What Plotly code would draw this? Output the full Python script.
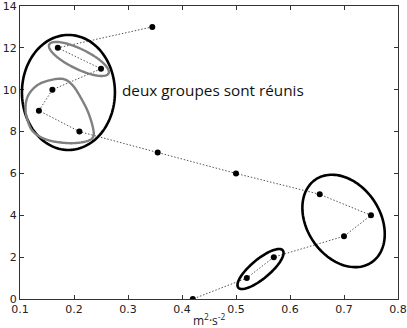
import math
import plotly.graph_objects as go

# ---- data ----
x_vals = [0.345, 0.17, 0.25, 0.16, 0.135, 0.21, 0.355, 0.50, 0.655, 0.75, 0.70, 0.57, 0.52, 0.42]
y_vals = [13, 12, 11, 10, 9, 8, 7, 6, 5, 4, 3, 2, 1, 0]
x_ticks = [0.1, 0.2, 0.3, 0.4, 0.5, 0.6, 0.7, 0.8]
y_ticks = [0, 2, 4, 6, 8, 10, 12, 14]
label_text = "deux groupes sont réunis"
x_title = "m<sup>2</sup>·s<sup>-2</sup>"

# ellipses: (center x, center y, semi-axis a [px], semi-axis b [px], angle deg, colour)
ellipses = [
    (0.1897, 9.87, 46.5, 57.5, 0, "black"),
    (0.2091, 11.47, 33, 10, -26, "#808080"),
    (0.6992, 3.73, 50, 36.5, -56, "black"),
    (0.5454, 1.433, 29, 9.5, 40, "black"),
]
# outline of the irregular grey group (data coords)
blob_x = [0.1564, 0.1805, 0.1971, 0.2119, 0.2267, 0.2359, 0.2341, 0.2174, 0.1878, 0.1509, 0.1250, 0.1139, 0.1102, 0.1157, 0.1324]
blob_y = [10.46, 10.51, 10.22, 9.65, 8.89, 8.08, 7.69, 7.50, 7.45, 7.60, 7.98, 8.55, 9.17, 9.75, 10.22]

W, H = 407, 328
ML, MR, MT, MB = 20, 9, 6, 29
X0, X1, Y0, Y1 = 0.1, 0.8, 0, 14
PXX = (W - ML - MR) / (X1 - X0)
PXY = (H - MT - MB) / (Y1 - Y0)


def ellipse_path(cx, cy, a, b, ang, n=120):
    th = math.radians(ang)
    pts = []
    for i in range(n + 1):
        t = 2 * math.pi * i / n
        dx = a * math.cos(t) * math.cos(th) - b * math.sin(t) * math.sin(th)
        dy = a * math.cos(t) * math.sin(th) + b * math.sin(t) * math.cos(th)
        pts.append((cx + dx / PXX, cy + dy / PXY))
    return "M " + " L ".join(f"{p[0]:.5f},{p[1]:.5f}" for p in pts) + " Z"


def blob_path(xs, ys, steps=12):
    n = len(xs)
    P = [(xs[i] * PXX, ys[i] * PXY) for i in range(n)]
    out = []
    for i in range(n):
        p0, p1, p2, p3 = P[(i - 1) % n], P[i], P[(i + 1) % n], P[(i + 2) % n]
        for s in range(steps):
            t = s / steps
            t2, t3 = t * t, t * t * t
            px = 0.5 * ((2 * p1[0]) + (-p0[0] + p2[0]) * t + (2 * p0[0] - 5 * p1[0] + 4 * p2[0] - p3[0]) * t2 + (-p0[0] + 3 * p1[0] - 3 * p2[0] + p3[0]) * t3)
            py = 0.5 * ((2 * p1[1]) + (-p0[1] + p2[1]) * t + (2 * p0[1] - 5 * p1[1] + 4 * p2[1] - p3[1]) * t2 + (-p0[1] + 3 * p1[1] - 3 * p2[1] + p3[1]) * t3)
            out.append((px / PXX, py / PXY))
    return "M " + " L ".join(f"{p[0]:.5f},{p[1]:.5f}" for p in out) + " Z"


fig = go.Figure()
fig.add_trace(go.Scatter(
    x=x_vals, y=y_vals, mode="lines+markers",
    line=dict(color="#555555", width=1, dash="1.5px,1.8px"),
    marker=dict(color="black", size=6),
    showlegend=False, cliponaxis=True,
))

shapes = []
for cx, cy, a, b, ang, col in ellipses:
    shapes.append(dict(type="path", path=ellipse_path(cx, cy, a, b, ang), xref="x", yref="y",
                       line=dict(color=col, width=2.6 if col == "black" else 2.4), fillcolor="rgba(0,0,0,0)", layer="above"))
shapes.append(dict(type="path", path=blob_path(blob_x, blob_y), xref="x", yref="y",
                   line=dict(color="#808080", width=2.4), fillcolor="rgba(0,0,0,0)", layer="above"))

axis_common = dict(
    showgrid=False, zeroline=False, showline=True, linecolor="#333333", linewidth=1,
    mirror="ticks", ticks="inside", ticklen=4, tickcolor="#333333", automargin=False,
    ticklabeloverflow="allow",
    tickfont=dict(family="DejaVu Sans", size=11, color="#222222"),
)
fig.update_layout(
    width=W, height=H, margin=dict(l=ML, r=MR, t=MT, b=MB, autoexpand=False),
    paper_bgcolor="white", plot_bgcolor="white",
    xaxis=dict(range=[X0, X1], tickvals=x_ticks, ticktext=[f"{v:.1f}" for v in x_ticks],
               ticklabelstandoff=0, **axis_common),
    yaxis=dict(range=[Y0, Y1], tickvals=y_ticks, ticktext=[str(v) for v in y_ticks],
               ticklabelstandoff=0, **axis_common),
    shapes=shapes,
    annotations=[
        dict(x=0.2845, y=10, xref="x", yref="y", text=label_text, showarrow=False,
             xanchor="left", yanchor="middle",
             font=dict(family="Open Sans", size=15.3, color="#111111")),
        dict(x=0.45, y=0, xref="x", yref="paper", text=x_title, showarrow=False,
             xanchor="center", yanchor="top", yshift=-10,
             font=dict(family="Open Sans", size=12, color="#222222")),
    ],
)
fig.write_html("out.html")
